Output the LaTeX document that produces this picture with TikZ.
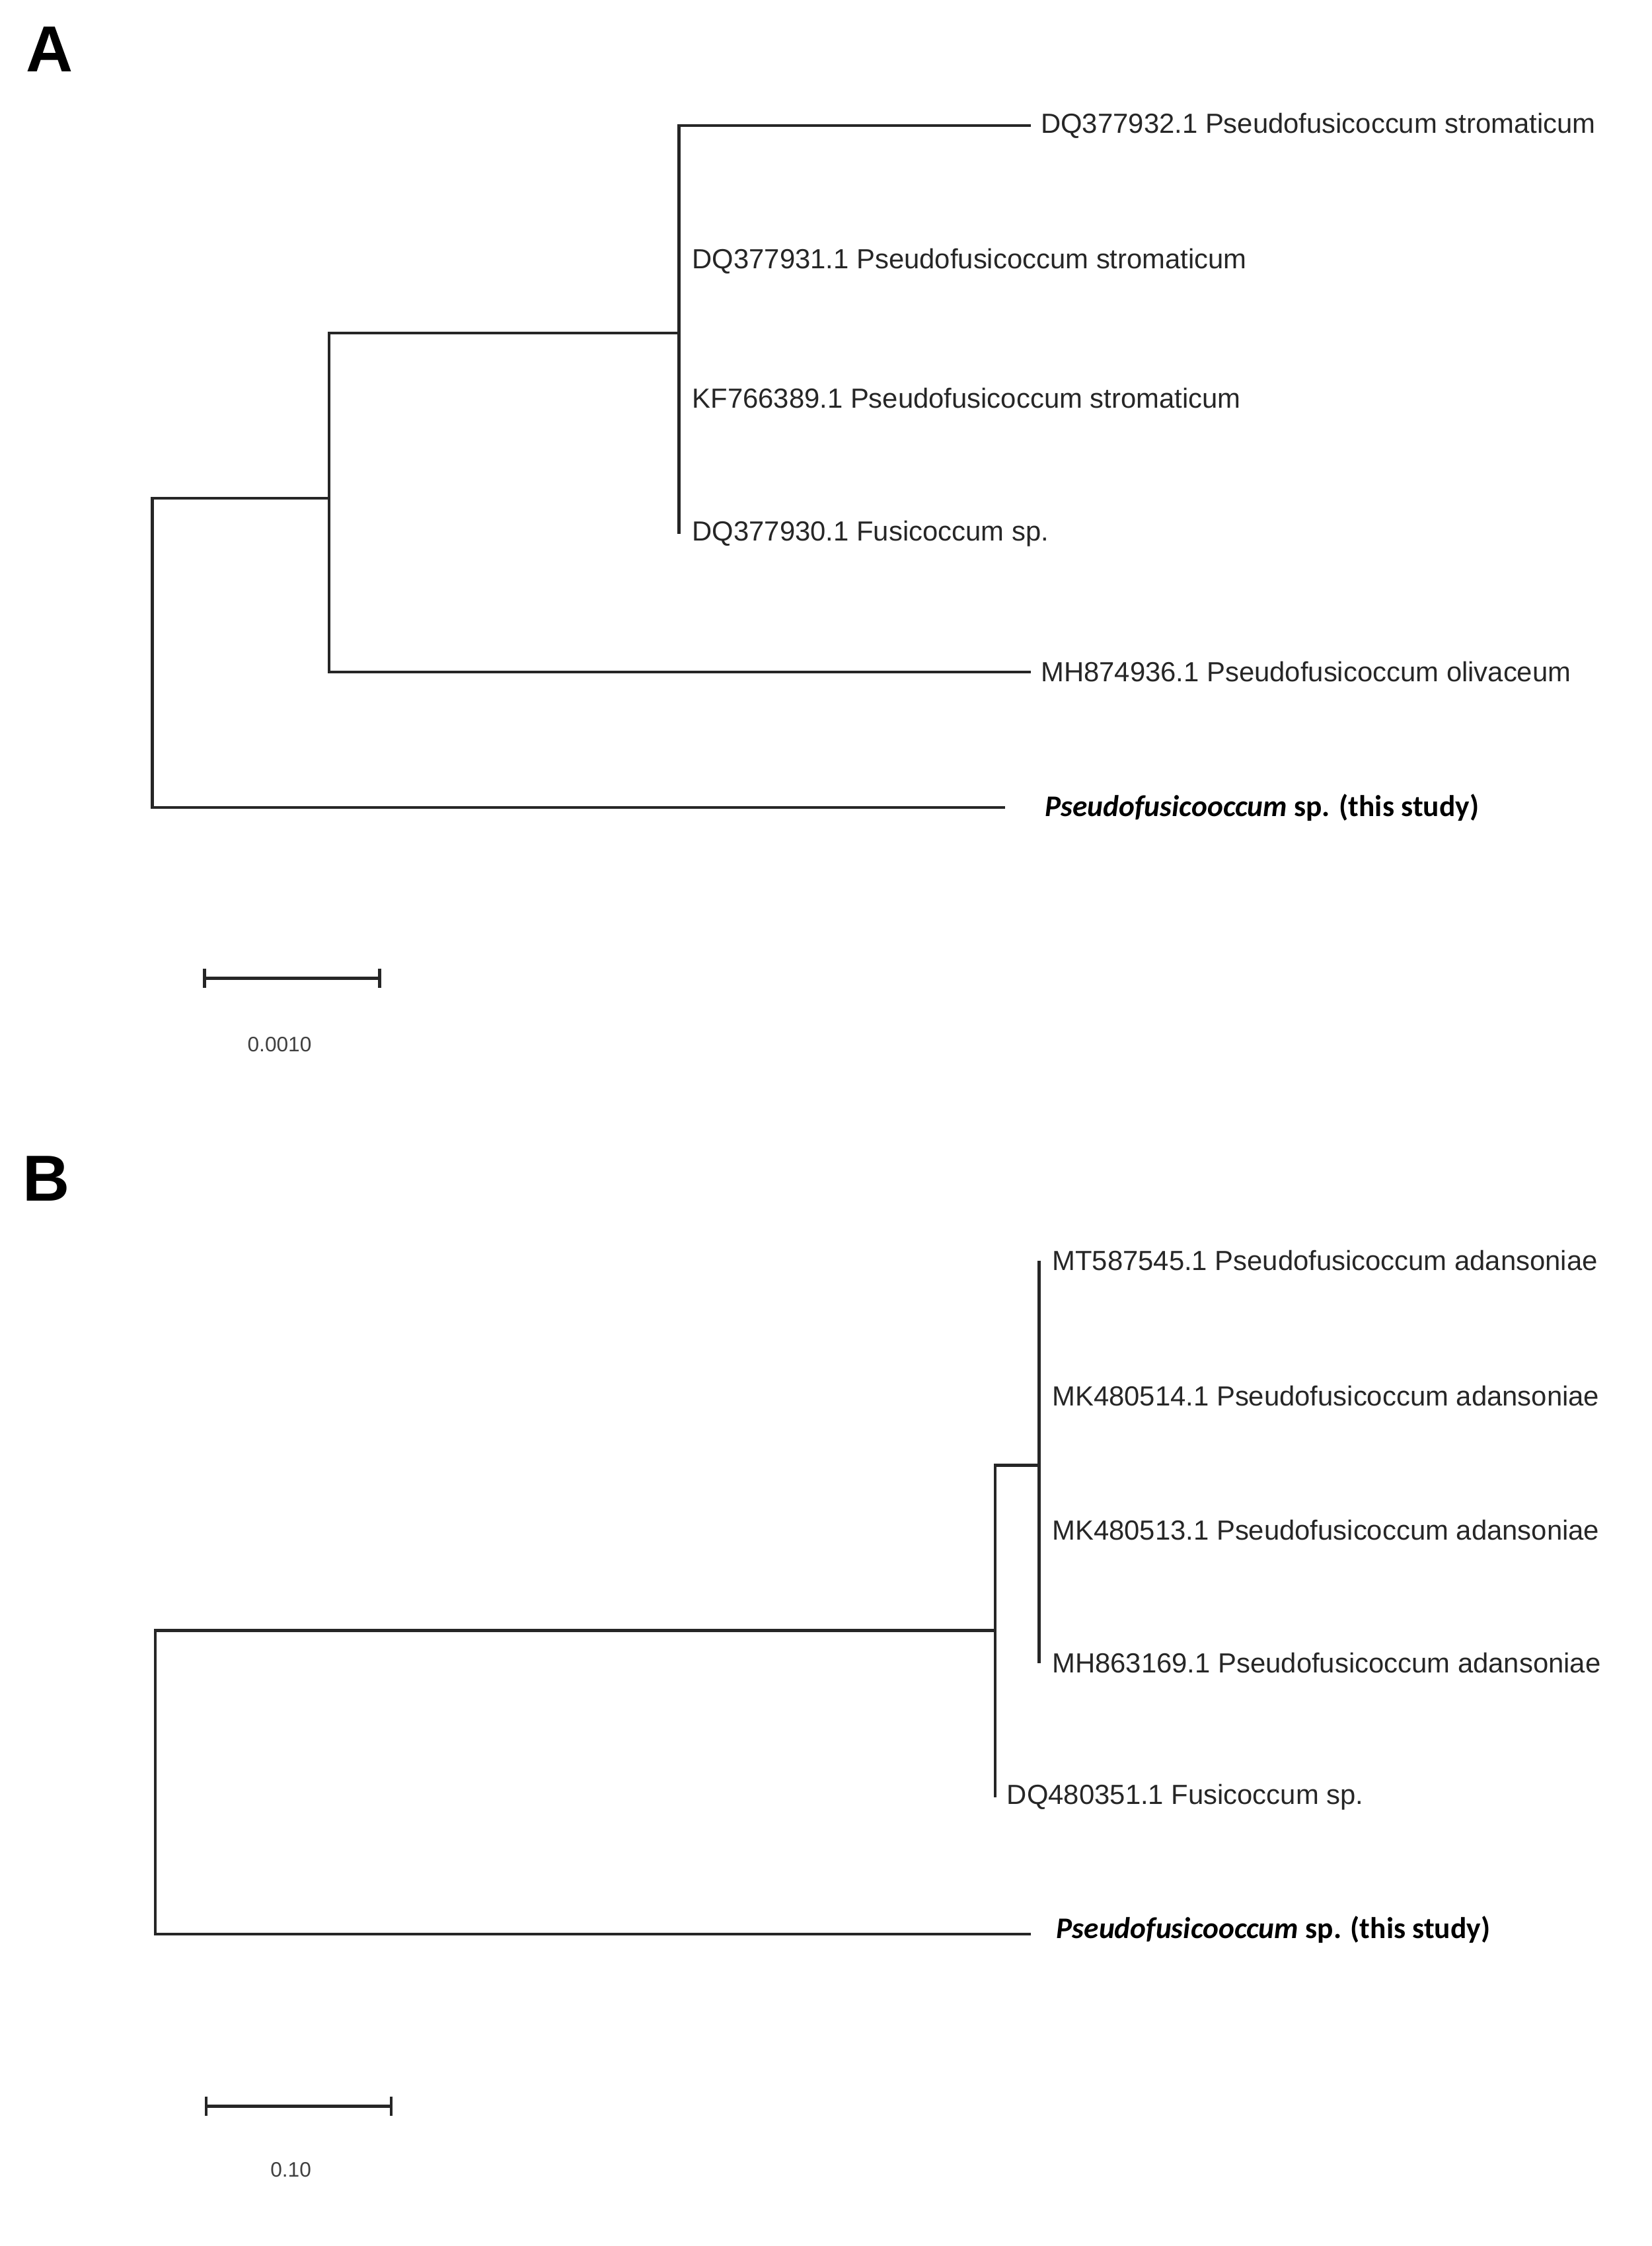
\documentclass[tikz,border=0pt]{standalone}
\usepackage{fontspec}
\setmainfont{Liberation Sans}
\newfontfamily\carl{Carlito}
\begin{document}
\begin{tikzpicture}[x=0.2136mm,y=-0.2136mm,
  br/.style={line width=1.3pt,black!85},
  lab/.style={anchor=west,inner sep=0pt,font=\fontsize{11.9}{14}\selectfont,text=black!85},
  bld/.style={anchor=west,inner sep=0pt,font=\carl\bfseries\fontsize{12.9}{15}\selectfont},
  pan/.style={font=\bfseries\fontsize{28}{30}\selectfont},
  sc/.style={font=\fontsize{9}{10}\selectfont,text=black!75}]
\useasboundingbox (0,0) rectangle (1170,1591);
% Panel A
\node[pan] (A) at (35,35) {A};
\draw[br] (233,353) -- (108,353) -- (108,572) -- (712,572);
\draw[br] (481,236) -- (233,236) -- (233,476) -- (730,476);
\draw[br] (730,89) -- (481,89) -- (481,378);
\node[lab] (a1) at (737,89) {DQ377932.1 Pseudofusicoccum stromaticum};
\node[lab] (a2) at (490,185) {DQ377931.1 Pseudofusicoccum stromaticum};
\node[lab] (a3) at (490,282) {KF766389.1 Pseudofusicoccum stromaticum};
\node[lab] (a4) at (490,378) {DQ377930.1 Fusicoccum sp.};
\node[lab] (a5) at (737,476) {MH874936.1 Pseudofusicoccum olivaceum};
\node[bld] (a6) at (740,572) {\itshape Pseudofusicooccum\upshape{} sp. (this study)};
\draw[br] (145,693) -- (269,693);
\draw[br] (145,686) -- (145,700);
\draw[br] (269,686) -- (269,700);
\node[sc] (sa) at (198,740) {0.0010};
% Panel B
\node[pan] (B) at (33,835) {B};
\draw[br] (705,1155) -- (110,1155) -- (110,1370) -- (730,1370);
\draw[br] (736,1038) -- (705,1038) -- (705,1273);
\draw[br] (736,893) -- (736,1178);
\node[lab] (b1) at (745,893) {MT587545.1 Pseudofusicoccum adansoniae};
\node[lab] (b2) at (745,989) {MK480514.1 Pseudofusicoccum adansoniae};
\node[lab] (b3) at (745,1084) {MK480513.1 Pseudofusicoccum adansoniae};
\node[lab] (b4) at (745,1178) {MH863169.1 Pseudofusicoccum adansoniae};
\node[lab] (b5) at (713,1273) {DQ480351.1 Fusicoccum sp.};
\node[bld] (b6) at (748,1367) {\itshape Pseudofusicooccum\upshape{} sp. (this study)};
\draw[br] (146,1492) -- (277,1492);
\draw[br] (146,1485) -- (146,1499);
\draw[br] (277,1485) -- (277,1499);
\node[sc] (sb) at (206,1537) {0.10};
\end{tikzpicture}
\end{document}
